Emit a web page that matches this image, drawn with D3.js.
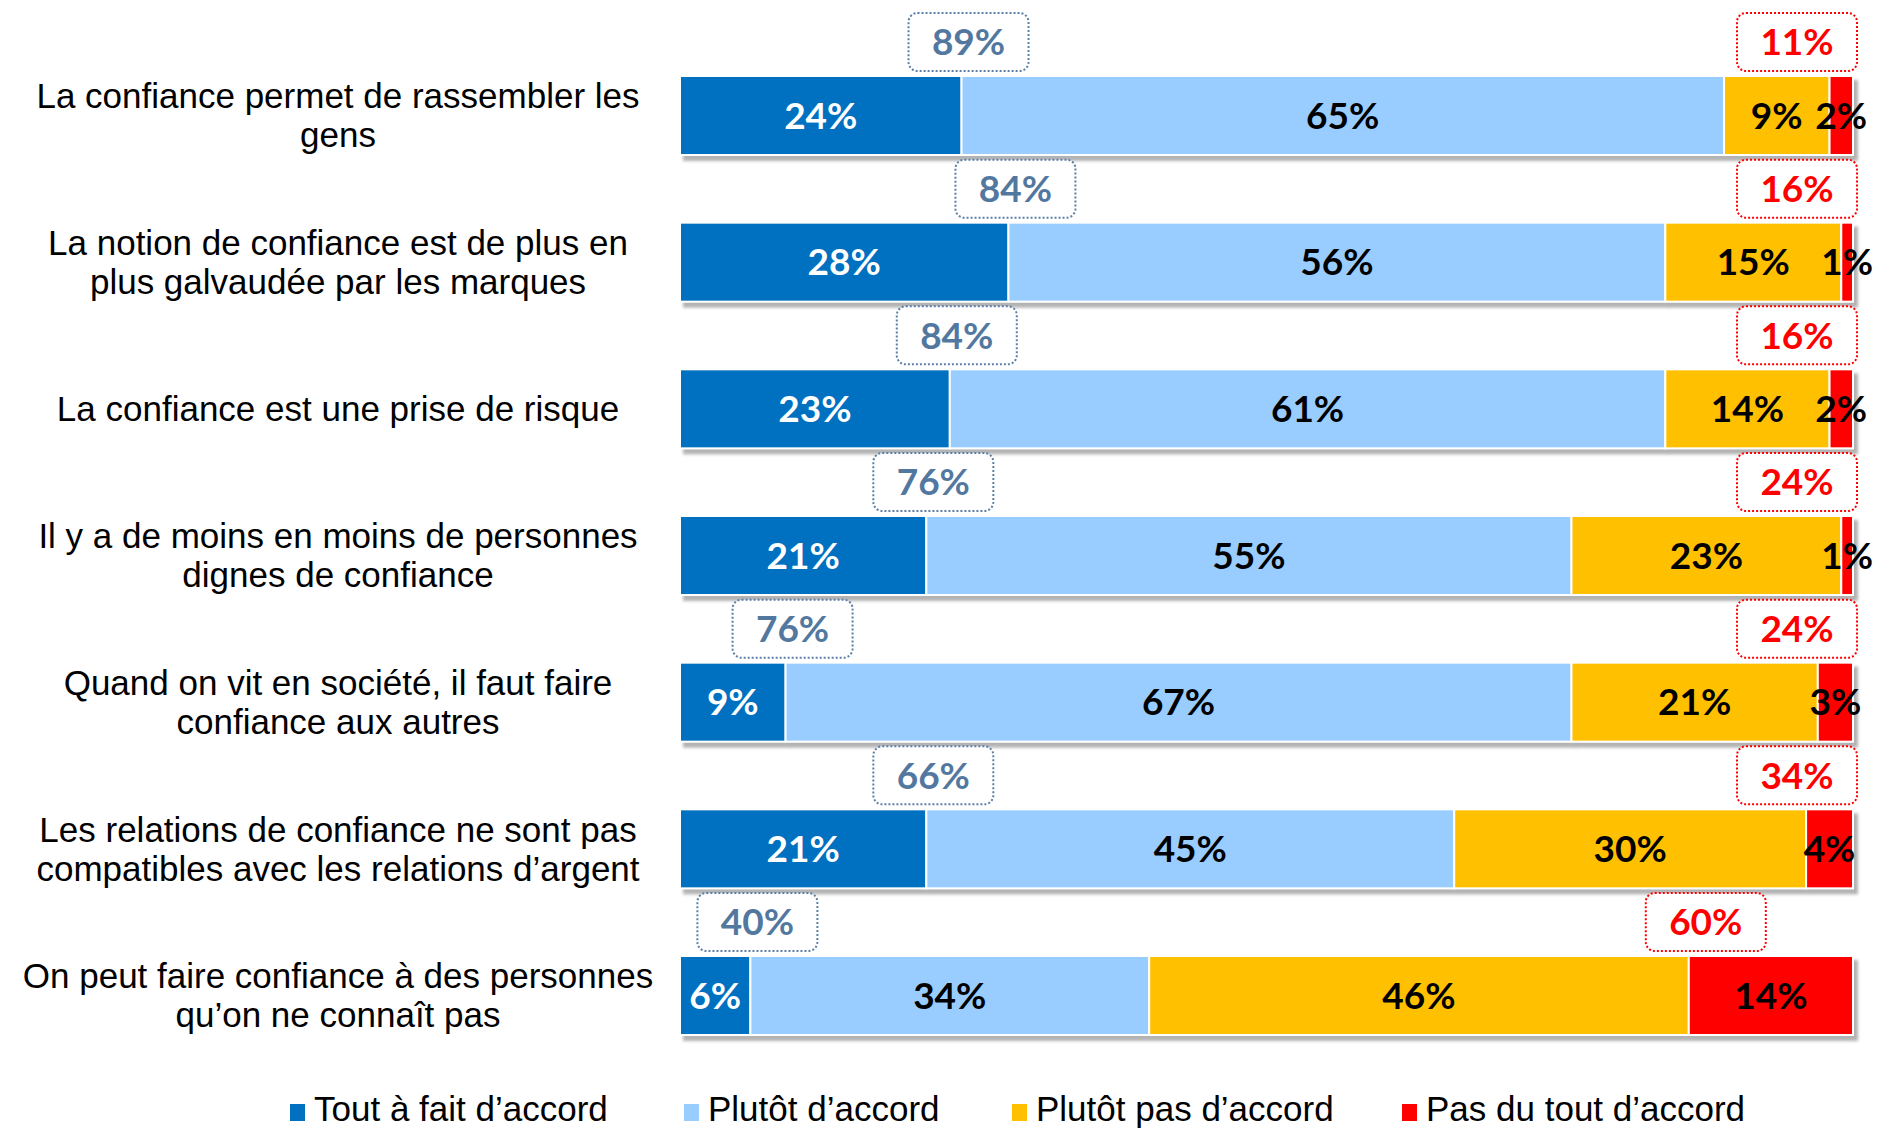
<!DOCTYPE html>
<html>
<head>
<meta charset="utf-8">
<script src="https://cdn.jsdelivr.net/npm/d3@7"></script>
<style>
  body { margin: 0; background: #fff; }
  svg text { font-family: "Liberation Sans", sans-serif; }
  .val { font-family: Lato, sans-serif; font-weight: 700; }
</style>
</head>
<body>
<svg id="chart" width="1882" height="1130"></svg>
<script>
// data
let categories = [
    ["La confiance permet de rassembler les", "gens"],
    ["La notion de confiance est de plus en", "plus galvaudée par les marques"],
    ["La confiance est une prise de risque"],
    ["Il y a de moins en moins de personnes", "dignes de confiance"],
    ["Quand on vit en société, il faut faire", "confiance aux autres"],
    ["Les relations de confiance ne sont pas", "compatibles avec les relations d’argent"],
    ["On peut faire confiance à des personnes", "qu’on ne connaît pas"]
]
let seriesNames = ["Tout à fait d’accord", "Plutôt d’accord", "Plutôt pas d’accord", "Pas du tout d’accord"]
let seriesColors = ["#0070C0", "#99CCFF", "#FFC000", "#FF0000"]
let toutAFait = [24, 28, 23, 21, 9, 21, 6]
let plutot = [65, 56, 61, 55, 67, 45, 34]
let plutotPas = [9, 15, 14, 23, 21, 30, 46]
let pasDuTout = [2, 1, 2, 1, 3, 4, 14]
let totalAccord = [89, 84, 84, 76, 76, 66, 40]
let totalPasAccord = [11, 16, 16, 24, 24, 34, 60]

let svg = d3.select("#chart")

let x = d3.scaleLinear().domain([0, 100]).range([680, 1853])
let y = d3.scaleBand()
    .domain(d3.range(categories.length))
    .range([76, 1035])
    .paddingInner(0.4614)
    .paddingOuter(0)

let defs = svg.append("defs")
let filter = defs.append("filter").attr("id", "shadow")
    .attr("x", "-5%").attr("y", "-20%").attr("width", "115%").attr("height", "150%")
filter.append("feDropShadow")
    .attr("dx", 4).attr("dy", 5).attr("stdDeviation", 1.5)
    .attr("flood-color", "#808080").attr("flood-opacity", 0.6)

let table = categories.map((c, i) => {
    let vals = [toutAFait[i], plutot[i], plutotPas[i], pasDuTout[i]]
    let start = 0
    let segs = vals.map((v, k) => {
        let s = { k: k, x0: start, x1: start + v, v: v }
        start += v
        return s
    })
    return { i: i, label: c, segs: segs, agree: totalAccord[i], disagree: totalPasAccord[i] }
})

let rows = svg.selectAll("g.row")
    .data(table)
    .enter()
    .append("g")
    .attr("class", "row")

// bars
let bars = rows.append("g").attr("filter", "url(#shadow)")
bars.selectAll("rect")
    .data(d => d.segs.map(s => ({ ...s, i: d.i })))
    .enter()
    .append("rect")
    .attr("x", s => x(s.x0))
    .attr("y", s => y(s.i))
    .attr("width", s => x(s.x1) - x(s.x0))
    .attr("height", y.bandwidth())
    .attr("fill", s => seriesColors[s.k])
    .attr("stroke", "#fff")
    .attr("stroke-width", 2)

rows.selectAll("text.val")
    .data(d => d.segs.map(s => ({ ...s, i: d.i })))
    .enter()
    .append("text")
    .attr("class", "val")
    .attr("x", s => (x(s.x0) + x(s.x1)) / 2)
    .attr("y", s => y(s.i) + y.bandwidth() / 2)
    .attr("dy", "0.36em")
    .attr("text-anchor", "middle")
    .attr("font-size", 37)
    .attr("fill", s => s.k === 0 ? "#fff" : "#000")
    .text(s => s.v + "%")

// callout boxes
let boxW = 120, boxH = 58
let addBox = (sel, cx, val, color, textColor) => {
    sel.append("rect")
        .attr("x", d => cx(d) - boxW / 2)
        .attr("y", d => y(d.i) - 63)
        .attr("width", boxW)
        .attr("height", boxH)
        .attr("rx", 9)
        .attr("fill", "#fff")
        .attr("stroke", color)
        .attr("stroke-width", 2)
        .attr("stroke-dasharray", "2,2")
    sel.append("text")
        .attr("class", "val")
        .attr("x", d => cx(d))
        .attr("y", d => y(d.i) - 63 + boxH / 2)
        .attr("dy", "0.36em")
        .attr("text-anchor", "middle")
        .attr("font-size", 37)
        .attr("fill", textColor)
        .text(d => val(d) + "%")
}
addBox(rows, d => x(d.segs[0].x1) + 7, d => d.agree, "#5B7FA6", "#53789F")
addBox(rows, d => Math.min(x(d.segs[2].x1) + 17, x(100) - boxW / 2 + 4), d => d.disagree, "#FF0000", "#FF0000")

// category labels
rows.each(function (d) {
    let g = d3.select(this)
    let n = d.label.length
    d.label.forEach((line, j) => {
        g.append("text")
            .attr("x", 338)
            .attr("y", y(d.i) + y.bandwidth() / 2 + (j - (n - 1) / 2) * 39)
            .attr("dy", "0.35em")
            .attr("text-anchor", "middle")
            .attr("font-size", 35)
            .attr("fill", "#000")
            .text(line)
    })
})

// legend
let legendX = [290, 684, 1012, 1402]
let legend = svg.selectAll("g.legend")
    .data(seriesNames)
    .enter()
    .append("g")
    .attr("class", "legend")
    .attr("transform", (d, i) => `translate(${legendX[i]}, 0)`)
legend.append("rect")
    .attr("x", 0).attr("y", 1104)
    .attr("width", 15).attr("height", 17)
    .attr("fill", (d, i) => seriesColors[i])
legend.append("text")
    .attr("x", 24).attr("y", 1121)
    .attr("font-size", 35)
    .text(d => d)
</script>
</body>
</html>
